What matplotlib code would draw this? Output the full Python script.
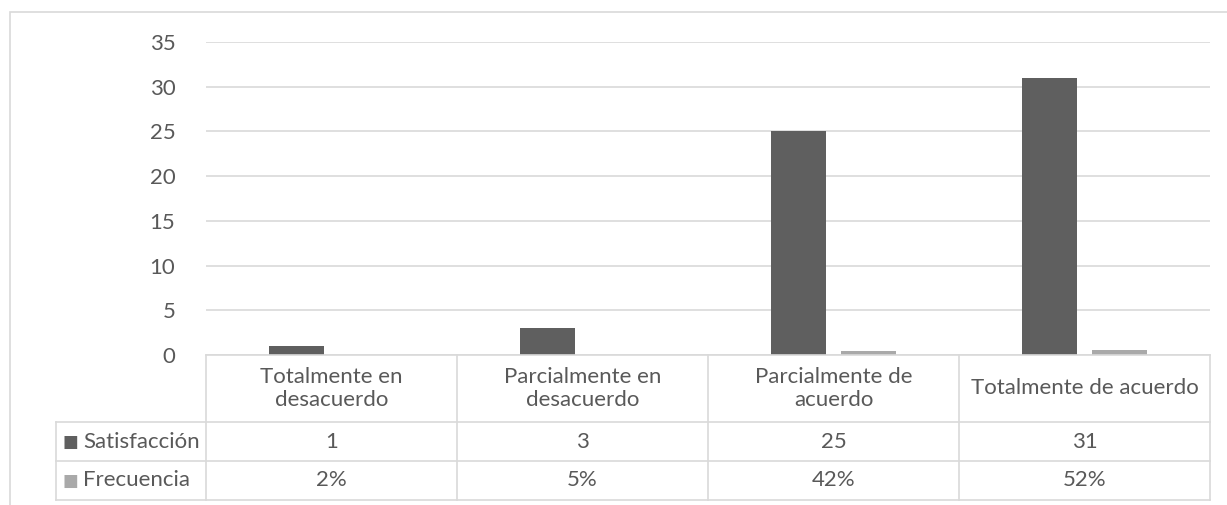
import matplotlib
matplotlib.use("Agg")
import matplotlib.pyplot as plt
from matplotlib.patches import Rectangle

# Data
categorias = ["Totalmente en\ndesacuerdo", "Parcialmente en\ndesacuerdo",
              "Parcialmente de\nacuerdo", "Totalmente de acuerdo"]
satisfaccion = [1, 3, 25, 31]
frecuencia = [0.02, 0.05, 0.42, 0.52]
series = ["Satisfacción", "Frecuencia"]
yticks = [0, 5, 10, 15, 20, 25, 30, 35]

# Style
W, H = 1227, 505
c_dark = "#5f5f5f"
c_light = "#a9a9a9"
c_text = "#595959"
c_grid = "#d9d9d9"
plt.rcParams["font.family"] = ["Lato", "DejaVu Sans"]
fs = 16

fig = plt.figure(figsize=(W / 100, H / 100), dpi=100)

def px(x0, y0, x1, y1):
    """Pixel box -> figure fraction rect."""
    return [x0 / W, 1 - y1 / H, (x1 - x0) / W, (y1 - y0) / H]

# outer chart frame
fig.add_artist(Rectangle((10 / W, -0.1), 1.2, 1 - 12 / H + 0.1,
                         transform=fig.transFigure, fill=False,
                         edgecolor=c_grid, linewidth=1.2))

ax = fig.add_axes(px(206, 42, 1210, 355))
x = list(range(len(categorias)))
bw = 0.22
off = 0.14
ax.bar([i - off for i in x], satisfaccion, width=bw, color=c_dark, zorder=3)
ax.bar([i + off for i in x], frecuencia, width=bw, color=c_light, zorder=3)
ax.set_xlim(-0.5, len(categorias) - 0.5)
ax.set_ylim(0, 35)
ax.set_yticks(yticks)
ax.set_xticks([])
ax.tick_params(axis="y", length=0, pad=22, labelsize=fs, labelcolor=c_text)
ax.grid(axis="y", color=c_grid, linewidth=1.2, zorder=0)
for s in ax.spines.values():
    s.set_visible(False)

# data table below the plot
tab = fig.add_axes(px(206, 355, 1210, 500))
tab.set_xlim(-0.5, len(categorias) - 0.5)
tab.set_ylim(145, 0)
tab.axis("off")
lab_left = -0.5 - 150 / 251
row_edges = [0, 67, 106, 145]
lk = dict(color=c_grid, linewidth=1.2, clip_on=False)

# horizontal lines
tab.plot([-0.5, 3.5], [0, 0], **lk)
for yy in row_edges[1:]:
    tab.plot([lab_left, 3.5], [yy, yy], **lk)
# vertical lines
for xx in [-0.5, 0.5, 1.5, 2.5, 3.5]:
    tab.plot([xx, xx], [0, 145], **lk)
tab.plot([lab_left, lab_left], [67, 145], **lk)

for i, cat in enumerate(categorias):
    tab.text(i, 33.5, cat, ha="center", va="center", fontsize=fs,
             color=c_text, linespacing=1.15)
    tab.text(i, 86.5, str(satisfaccion[i]), ha="center", va="center",
             fontsize=fs, color=c_text)
    tab.text(i, 125.5, f"{frecuencia[i]:.0%}", ha="center", va="center",
             fontsize=fs, color=c_text)

for j, (name, col) in enumerate(zip(series, [c_dark, c_light])):
    yc = (row_edges[j + 1] + row_edges[j + 2]) / 2
    tab.text(lab_left + 0.025, yc, "\u25A0", ha="left", va="center",
             fontsize=12, color=col, family="DejaVu Sans")
    tab.text(lab_left + 0.108, yc, name, ha="left", va="center",
             fontsize=fs, color=c_text)

fig.savefig("out.png", dpi=100)
